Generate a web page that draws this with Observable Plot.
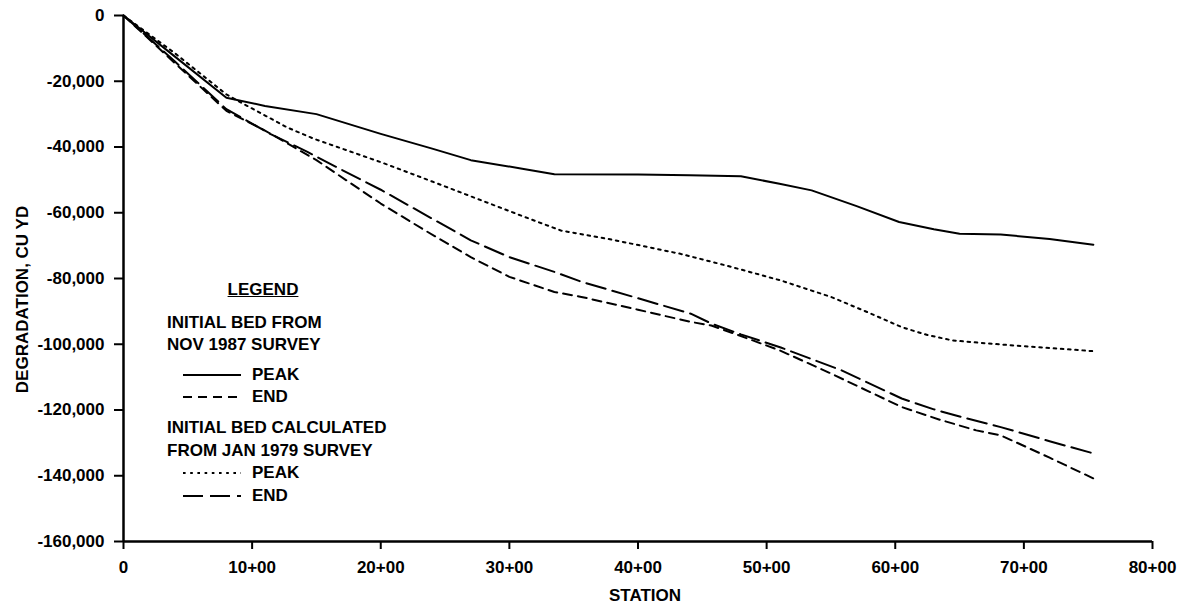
<!DOCTYPE html>
<html>
<head>
<meta charset="utf-8">
<script src="https://cdn.jsdelivr.net/npm/d3@7"></script>
<script src="https://cdn.jsdelivr.net/npm/@observablehq/plot@0.6"></script>
<style>
  html, body { margin: 0; padding: 0; background: #fff; }
  #wrap { position: relative; width: 1184px; height: 604px; font-family: "Liberation Sans", Arial, Helvetica, sans-serif; font-weight: bold; color: #000; }
  .lg { position: absolute; font-size: 17px; line-height: 22px; white-space: nowrap; }
  .lg svg { position: absolute; }
</style>
</head>
<body>
<div id="wrap">
  <div id="chart"></div>
  <div id="legend"></div>
</div>
<script>
// ---- Data ----
// Initial bed from Nov 1987 survey — PEAK (solid)
const nov1987PeakStation = [0, 4, 8, 11, 15, 20, 24, 27, 31, 33.5, 40, 44, 48, 51, 53.5, 57, 60.3, 63, 65, 68.2, 72, 75.4];
const nov1987PeakDeg     = [0, -12500, -25000, -27500, -30000, -36000, -40500, -44000, -46600, -48300, -48400, -48600, -48900, -51200, -53200, -58000, -62800, -65000, -66400, -66600, -68000, -69700];

// Initial bed from Nov 1987 survey — END (short dash)
const nov1987EndStation = [0, 4, 8, 11, 15, 20, 23.5, 27, 30, 33.5, 35.6, 40, 44.1, 45.7, 48, 51.1, 55, 60.5, 63.5, 66.3, 68.2, 72, 75.4];
const nov1987EndDeg     = [0, -14500, -29000, -35000, -44000, -57200, -65500, -73500, -79500, -84100, -85600, -89500, -93200, -94300, -97500, -102000, -108900, -119100, -123000, -126200, -127700, -134500, -140800];

// Initial bed calculated from Jan 1979 survey — PEAK (dotted)
const jan1979PeakStation = [0, 4, 8, 9.1, 12.7, 14.8, 20, 24, 27.8, 31, 34, 38, 43.3, 47, 51.1, 55, 58, 60.5, 62.5, 64.4, 66.7, 70, 75.4];
const jan1979PeakDeg     = [0, -11500, -24000, -26400, -34000, -37500, -44600, -50500, -56200, -61000, -65400, -68200, -72500, -76200, -80600, -85600, -90500, -94800, -97200, -98800, -99600, -100600, -102100];

// Initial bed calculated from Jan 1979 survey — END (long dash)
const jan1979EndStation = [0, 4, 8, 11.4, 14.3, 17, 20, 23.5, 27, 30, 33.5, 35.6, 40, 44.1, 45.7, 48, 51.1, 55.8, 60.5, 63, 65.1, 68.2, 72, 75.4];
const jan1979EndDeg     = [0, -14000, -28500, -36000, -41500, -47000, -53000, -60700, -68400, -73500, -78000, -81000, -86000, -90700, -93700, -97000, -101000, -107900, -116500, -119800, -122100, -125200, -129500, -133200];

const xTicks = [0, 10, 20, 30, 40, 50, 60, 70, 80];
const xTickLabels = ["0", "10+00", "20+00", "30+00", "40+00", "50+00", "60+00", "70+00", "80+00"];
const yTicks = [0, -20000, -40000, -60000, -80000, -100000, -120000, -140000, -160000];
const yTickLabels = ["0", "-20,000", "-40,000", "-60,000", "-80,000", "-100,000", "-120,000", "-140,000", "-160,000"];

const xLabel = "STATION";
const yLabel = "DEGRADATION, CU YD";

// legend texts
const legendTitle = "LEGEND";
const legendGroup1 = ["INITIAL BED FROM", "NOV 1987 SURVEY"];
const legendGroup2 = ["INITIAL BED CALCULATED", "FROM JAN 1979 SURVEY"];
const legendItems = ["PEAK", "END"];

// ---- Styles ----
const dashSolid = null;
const dashShort = "9,6";
const dashDotted = "2.6,4.6";
const dashLong = "20,7";

function rows(st, v) { return st.map((s, i) => ({station: s, deg: v[i]})); }

const series = [
  {data: rows(nov1987PeakStation, nov1987PeakDeg), dash: dashSolid},
  {data: rows(nov1987EndStation, nov1987EndDeg), dash: dashShort},
  {data: rows(jan1979PeakStation, jan1979PeakDeg), dash: dashDotted},
  {data: rows(jan1979EndStation, jan1979EndDeg), dash: dashLong}
];

const fmtX = d => xTickLabels[xTicks.indexOf(d)];
const fmtY = d => yTickLabels[yTicks.indexOf(d)];

const chart = Plot.plot({
  width: 1184,
  height: 604,
  marginLeft: 123,
  marginRight: 32,
  marginTop: 15,
  marginBottom: 63,
  style: {fontFamily: '"Liberation Sans", Arial, Helvetica, sans-serif', fontSize: "17px", fontWeight: "bold", color: "#000", background: "#fff"},
  x: {domain: [0, 80]},
  y: {domain: [-160000, 0]},
  marks: [
    Plot.axisX({ticks: xTicks, tickFormat: fmtX, tickSize: 8, tickPadding: 11, strokeWidth: 2, label: null}),
    Plot.axisY({ticks: yTicks, tickFormat: fmtY, tickSize: 9, tickPadding: 10, strokeWidth: 2, label: null}),
    Plot.text([xLabel], {frameAnchor: "bottom", dx: 7, dy: 54, textAnchor: "middle", lineAnchor: "middle", fill: "#000"}),
    Plot.text([yLabel], {frameAnchor: "left", rotate: -90, dx: -101, dy: 21, textAnchor: "middle", lineAnchor: "middle", fill: "#000"}),
    Plot.ruleX([0], {stroke: "#000", strokeWidth: 2.5}),
    Plot.ruleY([-160000], {stroke: "#000", strokeWidth: 2.5}),
    ...series.map(s => Plot.line(s.data, {
      x: "station", y: "deg", stroke: "#000", strokeWidth: 2,
      strokeDasharray: s.dash || undefined, curve: "linear"
    }))
  ]
});
document.getElementById("chart").appendChild(chart);

// ---- Legend overlay (inside plot area, lower-left) ----
const legend = document.getElementById("legend");
function addText(txt, left, centerY, extra) {
  const d = document.createElement("div");
  d.className = "lg";
  d.textContent = txt;
  d.style.left = left + "px";
  d.style.top = (centerY - 11) + "px";
  if (extra) Object.assign(d.style, extra);
  legend.appendChild(d);
  return d;
}
function addSample(dash, left, centerY) {
  const ns = "http://www.w3.org/2000/svg";
  const svg = document.createElementNS(ns, "svg");
  svg.setAttribute("width", 60); svg.setAttribute("height", 6);
  svg.style.position = "absolute";
  svg.style.left = left + "px";
  svg.style.top = (centerY - 3) + "px";
  const ln = document.createElementNS(ns, "line");
  ln.setAttribute("x1", 0); ln.setAttribute("x2", 58);
  ln.setAttribute("y1", 3); ln.setAttribute("y2", 3);
  ln.setAttribute("stroke", "#000"); ln.setAttribute("stroke-width", 2);
  if (dash) ln.setAttribute("stroke-dasharray", dash);
  svg.appendChild(ln);
  legend.appendChild(svg);
}
addText(legendTitle, 167, 290, {width: "192px", textAlign: "center", textDecoration: "underline"});
addText(legendGroup1[0], 167, 323);
addText(legendGroup1[1], 167, 345);
addSample(dashSolid, 183, 375); addText(legendItems[0], 252, 375);
addSample(dashShort, 183, 397); addText(legendItems[1], 252, 397);
addText(legendGroup2[0], 167, 428);
addText(legendGroup2[1], 167, 451);
addSample(dashDotted, 183, 473); addText(legendItems[0], 252, 473);
addSample(dashLong, 183, 496); addText(legendItems[1], 252, 496);
</script>
</body>
</html>
